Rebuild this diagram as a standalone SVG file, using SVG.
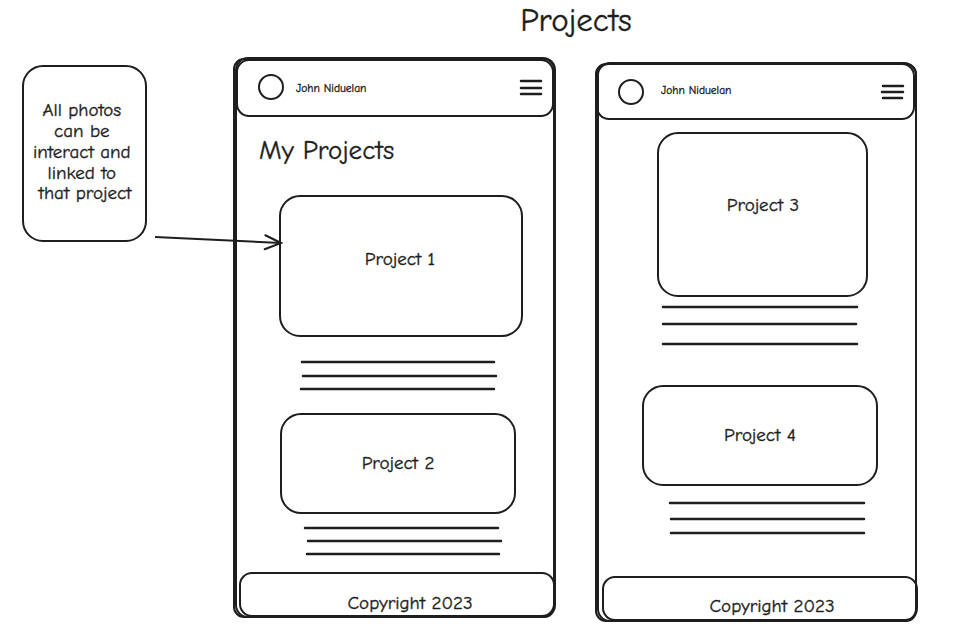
<svg xmlns="http://www.w3.org/2000/svg" width="955" height="627" viewBox="0 0 955 627">
  <style>
    .box { fill: none; stroke: #1e1e1e; stroke-width: 2; stroke-linejoin: round; }
    .rule { stroke: #1e1e1e; stroke-width: 2.5; stroke-linecap: round; }
    .t { font-family: "Comic Neue", "Liberation Sans", sans-serif; fill: #1e1e1e; stroke: #1e1e1e; stroke-width: 0.35; }
    .mid { text-anchor: middle; }
  </style>
  <defs>
    <marker id="arrowhead" viewBox="0 0 20 20" refX="18" refY="10" markerWidth="20" markerHeight="20" markerUnits="userSpaceOnUse" orient="auto">
      <path d="M2 3 L18 10 L2 17" fill="none" stroke="#1e1e1e" stroke-width="2" stroke-linecap="round"/>
    </marker>
  </defs>
  <rect width="955" height="627" fill="#ffffff"/>

  <text class="t mid" x="576" y="31" font-size="33">Projects</text>

  <!-- annotation note -->
  <g id="note">
    <rect class="box" x="23" y="66" width="123" height="175" rx="20"/>
    <text class="t mid" font-size="19">
      <tspan x="85" y="116">All photos</tspan>
      <tspan x="85" y="137">can be</tspan>
      <tspan x="85" y="158">interact and</tspan>
      <tspan x="85" y="179">linked to</tspan>
      <tspan x="85" y="199">that project</tspan>
    </text>
  </g>

  <!-- left phone -->
  <g id="phone-left">
    <rect class="box" x="234" y="59" width="320" height="558" rx="10"/>
    <rect class="box" x="236" y="58" width="319" height="559" rx="12" stroke-width="1"/>
  </g>
  <g id="header-left">
    <rect class="box" x="237" y="60" width="316" height="56" rx="12"/>
    <circle class="box" cx="271" cy="87" r="12"/>
    <text class="t" x="296" y="92" font-size="11.5" stroke-width="0.2">John Niduelan</text>
    <line class="rule" x1="521" y1="81" x2="541" y2="81" stroke-width="2"/>
    <line class="rule" x1="521" y1="88" x2="541" y2="88" stroke-width="2"/>
    <line class="rule" x1="521" y1="94" x2="541" y2="94" stroke-width="2"/>
  </g>
  <text class="t" x="259" y="159" font-size="27">My Projects</text>
  <g id="project-1">
    <rect class="box" x="280" y="196" width="242" height="140" rx="20"/>
    <text class="t mid" x="400" y="265" font-size="19">Project 1</text>
  </g>
  <g id="text-lines-1">
    <line class="rule" x1="302" y1="362" x2="494" y2="362"/>
    <line class="rule" x1="303" y1="376" x2="496" y2="376"/>
    <line class="rule" x1="301" y1="389" x2="494" y2="389"/>
  </g>
  <g id="project-2">
    <rect class="box" x="281" y="414" width="234" height="99" rx="20"/>
    <text class="t mid" x="398" y="469" font-size="19">Project 2</text>
  </g>
  <g id="text-lines-2">
    <line class="rule" x1="305" y1="528" x2="498" y2="528"/>
    <line class="rule" x1="308" y1="541" x2="501" y2="541"/>
    <line class="rule" x1="307" y1="554" x2="499" y2="554"/>
  </g>
  <g id="footer-left">
    <rect class="box" x="240" y="573" width="314" height="43" rx="12"/>
    <text class="t mid" x="410" y="609" font-size="19">Copyright 2023</text>
  </g>

  <!-- right phone -->
  <g id="phone-right">
    <rect class="box" x="596" y="64" width="320" height="557" rx="10"/>
    <rect class="box" x="598" y="63" width="318" height="558" rx="12" stroke-width="1"/>
  </g>
  <g id="header-right">
    <rect class="box" x="597" y="64" width="317" height="55" rx="12"/>
    <circle class="box" cx="631" cy="92" r="12"/>
    <text class="t" x="661" y="94" font-size="11.5" stroke-width="0.2">John Niduelan</text>
    <line class="rule" x1="883" y1="86" x2="903" y2="86" stroke-width="2"/>
    <line class="rule" x1="882" y1="92" x2="903" y2="92" stroke-width="2"/>
    <line class="rule" x1="883" y1="98" x2="902" y2="98" stroke-width="2"/>
  </g>
  <g id="project-3">
    <rect class="box" x="658" y="133" width="209" height="163" rx="20"/>
    <text class="t mid" x="763" y="211" font-size="19">Project 3</text>
  </g>
  <g id="text-lines-3">
    <line class="rule" x1="663" y1="307" x2="857" y2="307"/>
    <line class="rule" x1="663" y1="324" x2="856" y2="324"/>
    <line class="rule" x1="663" y1="344" x2="857" y2="344"/>
  </g>
  <g id="project-4">
    <rect class="box" x="643" y="386" width="234" height="99" rx="20"/>
    <text class="t mid" x="760" y="441" font-size="19">Project 4</text>
  </g>
  <g id="text-lines-4">
    <line class="rule" x1="670" y1="503" x2="864" y2="503"/>
    <line class="rule" x1="671" y1="519" x2="864" y2="519"/>
    <line class="rule" x1="671" y1="533" x2="864" y2="533"/>
  </g>
  <g id="footer-right">
    <rect class="box" x="603" y="577" width="314" height="43" rx="12"/>
    <text class="t mid" x="772" y="612" font-size="19">Copyright 2023</text>
  </g>

  <!-- connectors -->
  <g id="connectors">
    <path class="box" d="M155 237 L281 243" marker-end="url(#arrowhead)"/>
  </g>
</svg>
